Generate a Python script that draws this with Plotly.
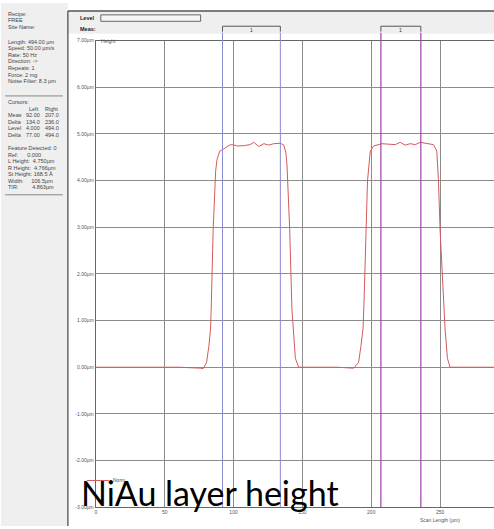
import plotly.graph_objects as go

W, H = 494, 529

# ---------------- data ----------------
scan_um = [0, 20, 40, 60, 76, 78, 80.4, 82.1, 83.3, 83.8, 85.2, 86, 87, 88, 90, 93, 97, 99, 103, 108,
           112, 114.7, 118.3, 122, 125.6, 129.2, 134, 136.5, 138, 138.8, 139.3, 140.8, 142.4, 143.2,
           144.9, 147.3, 160, 175, 187.2, 190.8, 192.5, 194, 194.6, 196, 197.3, 199.3, 201.7, 207.7,
           213.8, 217.4, 221, 224.6, 228.3, 232, 235.5, 240.3, 245.2, 247.6, 248.8, 250, 252.5,
           253.6, 255.3, 257.2, 270, 289]
height_um = [0, 0, 0, 0, -0.02, -0.03, 0.1, 0.45, 0.82, 1.25, 2.94, 3.6, 4.2, 4.45, 4.63, 4.68, 4.76,
             4.77, 4.74, 4.75, 4.77, 4.82, 4.73, 4.79, 4.76, 4.79, 4.80, 4.76, 4.6, 4.35, 4.0, 2.94,
             1.25, 0.82, 0.19, 0.0, 0, 0, -0.02, 0.1, 0.45, 0.82, 1.25, 2.94, 4.0, 4.63, 4.74, 4.79,
             4.77, 4.77, 4.82, 4.76, 4.79, 4.77, 4.82, 4.80, 4.77, 4.63, 4.0, 2.94, 1.25,
             0.82, 0.19, 0.0, 0, 0]

x_ticks = [0, 50, 100, 150, 200, 250]
y_ticks = [7, 6, 5, 4, 3, 2, 1, 0, -1, -2, -3]
y_tick_labels = ["7.00µm", "6.00µm", "5.00µm", "4.00µm", "3.00µm", "2.00µm", "1.00µm",
                 "0.00µm", "-1.00µm", "-2.00µm", "-3.00µm"]

meas_cursors = [92, 134]      # blue cursors (Left)
right_cursors = [207, 236]    # purple cursors (Right)

panel_lines_top = ["Recipe:", "FREE", "Site Name:", "", "Length: 494.00 µm", "Speed: 50.00 µm/s",
                   "Rate: 50 Hz", "Direction: ->", "Repeats: 1", "Force: 2 mg", "Noise Filter: 8.3 µm"]
cursor_rows = ["Meas", "Delta", "Level", "Delta"]
cursor_left = ["92.00", "134.0", "4.000", "77.00"]
cursor_right = ["207.0", "236.0", "494.0", "494.0"]
feature_lines = ["Feature Detected: 0", "Ref:      0.000", "L Height:  4.750µm", "R Height:  4.766µm",
                 "St Height: 168.5 Å", "Width:     106.5µm", "TIR:         4.863µm"]

title_text = "NiAu layer height"

# ---------------- helpers (pixel -> paper) ----------------
def px(x):
    return x / W

def py(y):
    return 1 - y / H

X0_PX = 95
YTOP_PX, YBOT_PX = 38, 510
PX_PER_UM = 1.38
x_max = (W - X0_PX) / PX_PER_UM

fig = go.Figure()
fig.add_trace(go.Scatter(x=scan_um, y=height_um, mode="lines",
                         line=dict(color="#d45a5a", width=1), showlegend=False,
                         hoverinfo="skip"))

small = dict(family="Liberation Sans, Arial", size=5.5, color="#444")

fig.update_layout(
    width=W, height=H, margin=dict(l=0, r=0, t=0, b=0),
    paper_bgcolor="white", plot_bgcolor="white",
    xaxis=dict(domain=[px(X0_PX), 1], range=[0, x_max], tickvals=x_ticks,
               ticktext=[str(v) for v in x_ticks], showgrid=True, gridcolor="#8c8c8c",
               gridwidth=1, zeroline=False, showline=True, linecolor="#666", mirror=True,
               ticks="", tickfont=dict(family="Liberation Sans, Arial", size=5, color="#555")),
    yaxis=dict(domain=[py(YBOT_PX), py(YTOP_PX)], range=[-3, 7], tickvals=y_ticks,
               ticktext=y_tick_labels, showgrid=True, gridcolor="#8c8c8c", gridwidth=1,
               zeroline=False, showline=True, linecolor="#666", ticks="",
               tickfont=dict(family="Liberation Sans, Arial", size=5, color="#555")),
)

shapes = []
# left info panel
shapes.append(dict(type="rect", xref="paper", yref="paper", x0=0, x1=px(67), y0=0, y1=1,
                   fillcolor="#efefef", line=dict(width=0), layer="below"))
shapes.append(dict(type="line", xref="paper", yref="paper", x0=px(67), x1=px(67), y0=0, y1=py(8),
                   line=dict(color="#666", width=1.5)))
# header panel
shapes.append(dict(type="rect", xref="paper", yref="paper", x0=px(67), x1=1, y0=py(31), y1=py(8),
                   fillcolor="#efefef", line=dict(width=0), layer="below"))
shapes.append(dict(type="line", xref="paper", yref="paper", x0=px(67), x1=1, y0=py(8), y1=py(8),
                   line=dict(color="#555", width=1.5)))
# level box
shapes.append(dict(type="rect", xref="paper", yref="paper", x0=px(100), x1=px(200), y0=py(18.5),
                   y1=py(12), fillcolor="#f4f4f4", line=dict(color="#666", width=1)))
# separator lines in the side panel
for yy in (94, 194):
    shapes.append(dict(type="line", xref="paper", yref="paper", x0=px(4), x1=px(62), y0=py(yy),
                       y1=py(yy), line=dict(color="#888", width=1)))

# cursors
for xv in meas_cursors:
    shapes.append(dict(type="line", xref="x", yref="paper", x0=xv, x1=xv, y0=py(YBOT_PX),
                       y1=py(30), line=dict(color="#8a8ad0", width=1)))
for xv in right_cursors:
    shapes.append(dict(type="line", xref="x", yref="paper", x0=xv, x1=xv, y0=py(YBOT_PX),
                       y1=py(30), line=dict(color="#a040a8", width=1.2)))
# measurement brackets
for a, b in (meas_cursors, right_cursors):
    xa, xb = px(X0_PX + a * PX_PER_UM), px(X0_PX + b * PX_PER_UM)
    shapes.append(dict(type="path", xref="paper", yref="paper",
                       path=f"M {xa},{py(29)} L {xa},{py(23.5)} L {xb},{py(23.5)} L {xb},{py(29)}",
                       line=dict(color="#555", width=1)))
# Norm legend line
shapes.append(dict(type="line", xref="paper", yref="paper", x0=px(86), x1=px(108), y0=py(483),
                   y1=py(483), line=dict(color="#d45a5a", width=1)))

fig.update_layout(shapes=shapes)

ann = []
def add_text(x, y, t, font=small, xanchor="left", yanchor="middle"):
    ann.append(dict(x=px(x), y=py(y), xref="paper", yref="paper", text=t, showarrow=False,
                    xanchor=xanchor, yanchor=yanchor, font=font))

top_y = [11, 17, 24, 31, 39, 46, 52.5, 59, 66, 72.5, 79]
for t, yy in zip(panel_lines_top, top_y):
    if t:
        add_text(5, yy, t)
add_text(5, 100, "Cursors:")
add_text(40, 107, "Left", xanchor="right")
add_text(59, 107, "Right", xanchor="right")
for i, (r, l, rr) in enumerate(zip(cursor_rows, cursor_left, cursor_right)):
    yy = 113.5 + i * 6.7
    add_text(5, yy, r)
    add_text(41, yy, l, xanchor="right")
    add_text(60, yy, rr, xanchor="right")
for i, t in enumerate(feature_lines):
    add_text(5, 147 + i * 6.6, t)

bold = dict(family="Liberation Sans, Arial", size=5.5, color="#222")
add_text(77, 15, "<b>Level</b>", font=bold)
add_text(77, 26, "<b>Meas:</b>", font=bold)
for a, b in (meas_cursors, right_cursors):
    add_text(X0_PX + (a + b) / 2 * PX_PER_UM, 27, "1",
             font=dict(family="Liberation Sans", size=5, color="#333"), xanchor="center")
add_text(98, 38.5, "Height", font=dict(family="Liberation Sans", size=5, color="#555"))
add_text(110, 482, "Norm", font=dict(family="Liberation Sans", size=5, color="#555"))
add_text(440, 523, "Scan Length (µm)", font=dict(family="Liberation Sans", size=5, color="#555"),
         xanchor="center")
add_text(78, 518, title_text, font=dict(family="Lato", size=34, color="black"), yanchor="bottom")

fig.update_layout(annotations=ann)
fig.write_html("out.html", config={"displayModeBar": False},
               post_script="document.body.style.margin='0';document.body.style.overflow='hidden';")
